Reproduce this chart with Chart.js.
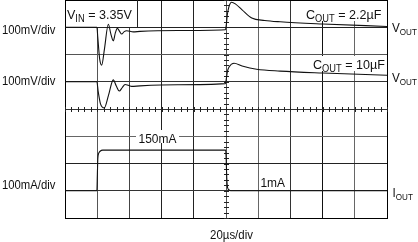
<!DOCTYPE html>
<html>
<head>
<meta charset="utf-8">
<style>
  html, body { margin: 0; padding: 0; background: #fff; }
  #wrap { width: 418px; height: 242px; }
</style>
<script src="https://cdn.jsdelivr.net/npm/chart.js@4/dist/chart.umd.min.js"></script>
</head>
<body>
<div id="wrap"><canvas id="scope" width="418" height="242"></canvas></div>
<script>
// Load transient scope shot: 20us/div across, 8 vertical divisions.

// ---- Data ---------------------------------------------------------------

const TIME_TICKS = [0, 20, 40, 60, 80, 100, 120, 140, 160, 180, 200]; // us
const DIV_TICKS = [0, 1, 2, 3, 4, 5, 6, 7, 8];

// V_OUT, C_OUT = 2.2uF (mV, relative to level before the load step)
const T_VOUT_22 = [0, 19.8, 20.4, 21.5, 22.8, 24.5, 26.9, 28.5, 30.0, 31.3, 32.5, 33.9, 35.2, 36.8, 38.3, 42.4, 46.6, 70, 99.6, 100.2, 100.8, 101.8, 103.5, 106, 110, 116, 124, 133.6, 160, 200];
const V_VOUT_22 = [0, 0, -40, -115, -139, -80, 11, -25, -50, -20, -4, -15, -25, -16, -13, -17, -15, -12, -9, 10, 45, 75, 92, 85, 64, 34, 25, 20, 12, 3];

// V_OUT, C_OUT = 10uF (mV)
const T_VOUT_10 = [0, 19.8, 20.6, 22, 24.4, 27, 30, 31.8, 33.7, 35.5, 37.3, 39.3, 41.4, 46.6, 70, 99.6, 100.3, 100.9, 102, 105, 110, 119, 133.6, 160, 200];
const V_VOUT_10 = [0, 0, -35, -80, -96, -50, 7, -15, -34, -22, -10, -13, -17, -15, -11, -7, 15, 38, 55, 68, 58, 46, 39, 32, 24];

// I_OUT (mA)
const T_IOUT = [0, 19.8, 20.1, 20.4, 20.9, 21.8, 23.5, 99.8, 100.1, 100.4, 100.8, 101.5, 103, 200];
const I_IOUT = [1, 1, 60, 120, 138, 146, 150, 150, 120, 60, 20, 6, 1, 1];

// where each trace sits on screen (divisions from the bottom) and its scale
const VOUT_22_ZERO = 7;
const VOUT_10_ZERO = 5;
const IOUT_ZERO = 0.99;
const MV_PER_DIV = 100;
const MA_PER_DIV = 100;

// ---- Styling -----------------------------------------------------------

const FONT = '"Liberation Sans", Arial, Helvetica, sans-serif';
const X_GRID_COLORS = ['#000', '#555', '#444', '#222', '#222', '#555', '#666', '#333', '#111', '#666', '#000'];
const Y_GRID_COLORS = ['#000', '#333', '#222', '#666', '#333', '#333', '#555', '#222', '#000'];

function toPoints(times, values, zero, perDiv) {
    return times.map((t, i) => ({ x: t, y: zero + values[i] / perDiv }));
}

function trace(data) {
    return {
        data,
        borderColor: '#111',
        borderWidth: 1.1,
        pointRadius: 0,
        showLine: true,
        fill: false,
        cubicInterpolationMode: 'monotone',
    };
}

// text with optional subscript parts, squeezed horizontally by sx
function drawLabel(ctx, parts, x, y, size, sx = 1, align = 'left') {
    const subSize = Math.round(size * 0.72);
    const widths = parts.map(([txt, sub]) => {
        ctx.font = `${sub ? subSize : size}px ${FONT}`;
        return ctx.measureText(txt).width;
    });
    const total = widths.reduce((a, b) => a + b, 0) * sx;
    const left = align === 'center' ? x - total / 2 : align === 'right' ? x - total : x;
    ctx.save();
    ctx.translate(left, y);
    ctx.scale(sx, 1);
    ctx.textAlign = 'left';
    ctx.textBaseline = 'alphabetic';
    let cx = 0;
    parts.forEach(([txt, sub], i) => {
        ctx.font = `${sub ? subSize : size}px ${FONT}`;
        ctx.fillText(txt, cx, sub ? size * 0.25 : 0);
        cx += widths[i];
    });
    ctx.restore();
    return total;
}

const scopeDecor = {
    id: 'scopeDecor',
    beforeDatasetsDraw(chart) {
        const { ctx, scales: { x, y } } = chart;
        ctx.save();

        // minor ticks on the centre cross-hair
        ctx.strokeStyle = '#222';
        ctx.lineWidth = 1;
        ctx.beginPath();
        const yc = Math.round(y.getPixelForValue(4)) + 0.5;
        for (let t = 0; t <= 200; t += 4) {
            const px = Math.round(x.getPixelForValue(t)) + 0.5;
            ctx.moveTo(px, yc - 2.5);
            ctx.lineTo(px, yc + 2.5);
        }
        const xc = Math.round(x.getPixelForValue(100)) + 0.5;
        for (let d = 0; d <= 40; d++) {
            const py = Math.round(y.getPixelForValue(d / 5)) + 0.5;
            ctx.moveTo(xc - 2.5, py);
            ctx.lineTo(xc + 2.5, py);
        }
        ctx.stroke();

        // white label boxes over the graticule
        ctx.fillStyle = '#fff';
        ctx.fillRect(66, 1, 71, 26);
        ctx.fillRect(300, 1, 86, 20);
        ctx.fillRect(309, 56, 77, 15);
        ctx.fillRect(136, 130, 43, 13);
        ctx.strokeStyle = '#222';
        ctx.beginPath();
        ctx.moveTo(137.5, 0);
        ctx.lineTo(137.5, 28);
        ctx.stroke();

        ctx.fillStyle = '#111';
        drawLabel(ctx, [['V'], ['IN', true], [' = 3.35V']], 67, 18.5, 13.5, 0.93);
        drawLabel(ctx, [['C'], ['OUT', true], [' = 2.2\u00b5F']], 306, 18.5, 13.5, 0.93);
        drawLabel(ctx, [['C'], ['OUT', true], [' = 10\u00b5F']], 313, 68.5, 13.5, 0.93);
        drawLabel(ctx, [['150mA']], 138.5, 142.5, 13, 0.92);
        drawLabel(ctx, [['1mA']], 285, 186.5, 13, 0.92, 'right');
        ctx.restore();
    },
    afterDraw(chart) {
        const { ctx } = chart;
        ctx.save();
        ctx.fillStyle = '#111';
        drawLabel(ctx, [['100mV/div']], 2, 33.5, 13, 0.87);
        drawLabel(ctx, [['100mV/div']], 2, 85, 13, 0.87);
        drawLabel(ctx, [['100mA/div']], 2, 188.5, 13, 0.87);
        drawLabel(ctx, [['20\u00b5s/div']], 231.5, 238.5, 13, 0.88, 'center');
        drawLabel(ctx, [['V'], ['OUT', true]], 392, 32, 13, 0.9);
        drawLabel(ctx, [['V'], ['OUT', true]], 392, 82, 13, 0.9);
        drawLabel(ctx, [['I'], ['OUT', true]], 392.5, 196.5, 13, 0.9);
        ctx.restore();
    },
};

// ---- Chart -------------------------------------------------------------

new Chart(document.getElementById('scope').getContext('2d'), {
    type: 'scatter',
    data: {
        datasets: [
            trace(toPoints(T_VOUT_22, V_VOUT_22, VOUT_22_ZERO, MV_PER_DIV)),
            trace(toPoints(T_VOUT_10, V_VOUT_10, VOUT_10_ZERO, MV_PER_DIV)),
            trace(toPoints(T_IOUT, I_IOUT, IOUT_ZERO, MA_PER_DIV)),
        ],
    },
    options: {
        responsive: false,
        animation: false,
        devicePixelRatio: 1,
        layout: { padding: { left: 65, right: 31, top: 0, bottom: 24 } },
        plugins: { legend: { display: false }, tooltip: { enabled: false } },
        scales: {
            x: {
                type: 'linear',
                min: TIME_TICKS[0],
                max: TIME_TICKS[TIME_TICKS.length - 1],
                afterBuildTicks: (s) => { s.ticks = TIME_TICKS.map(v => ({ value: v })); },
                ticks: { display: false },
                grid: { drawTicks: false, color: (c) => X_GRID_COLORS[c.index] || '#555', lineWidth: 1 },
                border: { display: true, color: '#000' },
            },
            y: {
                type: 'linear',
                min: DIV_TICKS[0],
                max: DIV_TICKS[DIV_TICKS.length - 1],
                afterBuildTicks: (s) => { s.ticks = DIV_TICKS.map(v => ({ value: v })); },
                ticks: { display: false },
                grid: { drawTicks: false, color: (c) => Y_GRID_COLORS[c.index] || '#555', lineWidth: 1 },
                border: { display: true, color: '#000' },
            },
        },
    },
    plugins: [scopeDecor],
});
</script>
</body>
</html>
